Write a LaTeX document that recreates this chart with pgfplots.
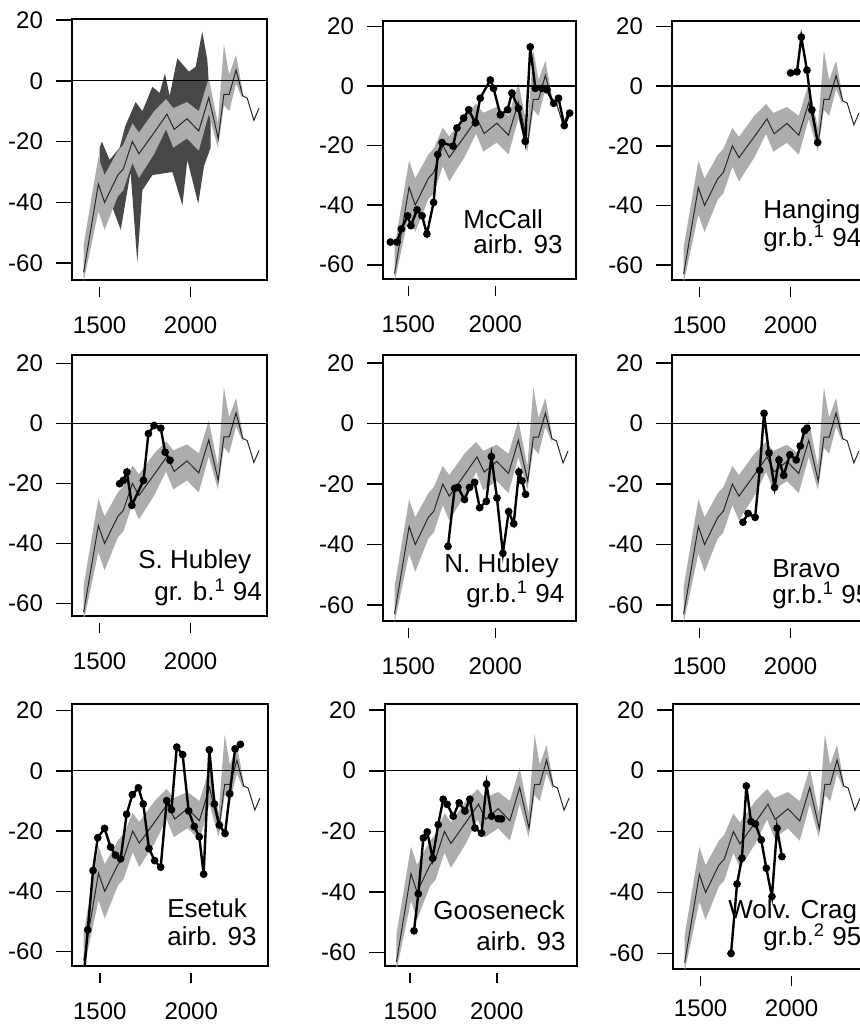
\documentclass[border=0pt]{standalone}
\usepackage{fontspec}
\setmainfont{Liberation Sans}
\usepackage{pgfplots}
\pgfplotsset{compat=1.18}
\usepackage{pgfplotstable}

% reference band (upper edge forward, lower edge back)
\pgfplotstableread{
x y
1412 -54
1493 -25
1527 -31
1600 -23
1630 -21
1680 -14
1716 -17
1800 -10
1865 -6
1905 -9
1980 -7
2045 -10
2100 1
2150 -14
2183 12
2212 2
2250 8.5
2285 -3
2285 -6
2250 -1
2212 -10
2183 -8
2150 -22
2100 -11
2045 -23
1980 -19
1905 -22
1865 -16
1800 -24
1716 -32
1680 -27
1630 -36
1600 -38
1527 -49
1493 -43
1412 -66
}\bandpoly

\pgfplotstableread{
x y
1412 -63
1493 -34
1527 -40
1600 -31
1630 -29
1680 -20
1716 -24
1800 -17
1870 -11
1910 -16
1980 -12.5
2045 -16.5
2100 -5.5
2152 -19
2183 -4.5
2212 -4.5
2250 3.5
2287 -5
2311 -5.7
2348 -13
2376 -9
}\meanline

% envelope of all glaciers (first panel)
\pgfplotstableread{
x y
1500 -22
1512 -20
1555 -26
1610 -22
1640 -15
1698 -7
1735 -10
1790 -2
1830 -4
1859 2.4
1885 -5
1927 7.4
1951 5.7
1991 3
2028 4.6
2064 16.2
2092 6.8
2110 -10
2110 -22
2074 -28
2042 -40.4
1982 -26
1955 -41
1900 -30
1790 -31
1735 -36
1707 -59.7
1670 -30
1616 -49
1560 -40
1530 -33
1500 -30
}\envpoly

\pgfplotstableread{
x y
1389 -52.4
1426 -52.4
1450 -48
1485 -43.6
1503 -46.9
1537 -41.6
1565 -43.6
1592 -49.7
1629 -39.1
1652 -23
1676 -19
1737 -20.2
1759 -14.1
1796 -10.8
1824 -8
1861 -12.4
1888 -4.1
1944 2
1962 -0.8
2000 -9.7
2040 -8
2064 -2.4
2100 -7.5
2138 -18.6
2166 13.1
2194 -0.8
2231 -0.8
2259 -1.3
2296 -5.8
2323 -4.1
2355 -13.3
2385 -9.1
}\mccall

\pgfplotstableread{
x y
2000 4.4
2035 4.8
2059 16.4
2090 5.3
2117 -8
2149 -18.9
}\hanging

\pgfplotstableread{
x y
1610 -20.1
1630 -19
1650 -16.2
1677 -27.3
1741 -19
1768 -3.4
1799 -0.7
1836 -1.6
1860 -9.6
1887 -12.3
}\shubley

\pgfplotstableread{
x y
1709 -40.6
1746 -21.4
1764 -21.1
1801 -25.1
1829 -21.1
1857 -19.4
1885 -27.8
1922 -25.7
1950 -10.9
1981 -24.6
2014 -42.9
2046 -29.1
2074 -33.1
2103 -16
2120 -18.9
2140 -23.4
}\nhubley

\pgfplotstableread{
x y
1738 -32.6
1766 -29.7
1805 -31
1830 -15.4
1854 3.4
1881 -9.7
1912 -21.1
1936 -12
1962 -17.1
1996 -10.3
2031 -12
2053 -7.4
2077 -2.3
2090 -1.5
}\bravo

\pgfplotstableread{
x y
1416 -66
1434 -52.8
1463 -33.1
1489 -22.2
1526 -19.1
1559 -25.3
1586 -28
1614 -29.2
1647 -14.4
1678 -7.9
1711 -5.6
1738 -11
1769 -25.8
1800 -29.8
1833 -32
1866 -9.9
1892 -12.9
1921 7.9
1953 5.4
1986 -13.3
2017 -18.5
2044 -21.9
2068 -34.3
2099 7
2127 -11
2154 -18
2185 -20.8
2211 -7.6
2240 7.3
2269 8.8
}\esetuk

\pgfplotstableread{
x y
1510 -52.8
1534 -40.6
1562 -22.2
1584 -20.2
1614 -28.9
1645 -17.8
1673 -9.4
1695 -11.1
1729 -15
1762 -10.6
1794 -13.3
1822 -9.4
1850 -18.9
1887 -20.6
1915 -4.4
1943 -15
1980 -15.8
1998 -15.9
}\gooseneck

\pgfplotstableread{
x y
1667 -60
1700 -37.2
1727 -28.7
1751 -5
1777 -16.7
1801 -17.5
1833 -22.7
1861 -32
1892 -41.3
1920 -18.9
1947 -28.2
}\wolv

\pgfplotsset{
  panel/.style={
    scale only axis, anchor=south west,
    xmin=1348, xmax=2420,
    xtick={1500,2000}, ytick={-60,-40,-20,0,20},
    tick pos=left, tick align=outside,
    major tick length=8pt,
    axis line style={line width=0.8pt},
    tick style={line width=0.8pt, black},
    x tick style={/pgfplots/major tick length=5pt, yshift=-3.5pt},
    tick label style={font=\fontsize{12}{14}\selectfont},
    /pgf/number format/assume math mode=true,
    /pgf/number format/1000 sep={},
    yticklabel style={xshift=-3pt},
    xticklabel style={yshift=-7pt},
  },
  midcol/.style={xtick={1489,1972}, xticklabels={1500,2000}},
  glac/.style={black, line width=1.2pt, mark=*, mark size=1.3pt},
}

\newcommand{\refcurve}{%
  \addplot[fill=black!32, draw=none] table {\bandpoly};
  \addplot[black!85, line width=0.5pt] table {\meanline};
  \addplot[black, line width=0.6pt] coordinates {(1348,0) (2420,0)};
}

\begin{document}
\begin{tikzpicture}
\useasboundingbox (0,0) rectangle (430pt,-512pt);
\clip (0,0) rectangle (430pt,-512pt);

% row 1
\begin{axis}[panel, at={(36pt,-140pt)}, width=97.5pt, height=130.5pt, ymin=-65.5, ymax=20.3]
  \addplot[fill=black!72, draw=none] table {\envpoly};
  \refcurve
\end{axis}
\begin{axis}[panel, midcol, at={(191.5pt,-139.5pt)}, width=96.5pt, height=129pt, ymin=-64.8, ymax=21.8]
  \refcurve
  \addplot[glac] table {\mccall};
\end{axis}
\begin{axis}[panel, at={(336pt,-140pt)}, width=97.5pt, height=129.5pt, ymin=-65, ymax=21.8]
  \refcurve
  \addplot[glac] table {\hanging};
\end{axis}

% row 2
\begin{axis}[panel, at={(36pt,-308pt)}, width=97.5pt, height=130.5pt, ymin=-64.2, ymax=22.8]
  \refcurve
  \addplot[glac] table {\shubley};
\end{axis}
\begin{axis}[panel, midcol, at={(191.5pt,-310.5pt)}, width=96.5pt, height=133pt, ymin=-65.3, ymax=22.7]
  \refcurve
  \addplot[glac] table {\nhubley};
\end{axis}
\begin{axis}[panel, at={(336pt,-310.5pt)}, width=97.5pt, height=133pt, ymin=-65.3, ymax=22.7]
  \refcurve
  \addplot[glac] table {\bravo};
\end{axis}

% row 3
\begin{axis}[panel, at={(36pt,-483pt)}, width=98pt, height=131pt, ymin=-64.8, ymax=22.2]
  \refcurve
  \addplot[glac] table {\esetuk};
\end{axis}
\begin{axis}[panel, midcol, at={(192.5pt,-483pt)}, width=96pt, height=131pt, ymin=-64.4, ymax=22]
  \refcurve
  \addplot[glac] table {\gooseneck};
\end{axis}
\begin{axis}[panel, at={(336.5pt,-484.5pt)}, width=97.5pt, height=132.5pt, ymin=-65.1, ymax=21.9,
  xticklabel style={yshift=3pt}]
  \refcurve
  \addplot[glac] table {\wolv};
\end{axis}

\begin{scope}[every node/.style={anchor=base west, inner sep=0pt, font=\fontsize{13}{15}\selectfont}]
\node at (231.5pt,-114pt) {McCall};
\node at (236.5pt,-126.5pt) {airb. 93};
\node at (381.5pt,-109pt) {Hanging};
\node at (381.5pt,-123pt) {gr.b.\textsuperscript{1} 94};
\node at (69pt,-284pt) {S. Hubley};
\node at (77pt,-300pt) {gr. b.\textsuperscript{1} 94};
\node at (222pt,-286pt) {N. Hubley};
\node at (233pt,-301pt) {gr.b.\textsuperscript{1} 94};
\node at (386pt,-288.5pt) {Bravo};
\node at (386pt,-301.5pt) {gr.b.\textsuperscript{1} 95};
\node at (83.5pt,-458.5pt) {Esetuk};
\node at (83.5pt,-472.5pt) {airb. 93};
\node at (216.5pt,-459.5pt) {Gooseneck};
\node at (238pt,-475pt) {airb. 93};
\node at (364pt,-459pt) {Wolv. Crag};
\node at (381.5pt,-472.5pt) {gr.b.\textsuperscript{2} 95};
\end{scope}
\end{tikzpicture}
\end{document}
